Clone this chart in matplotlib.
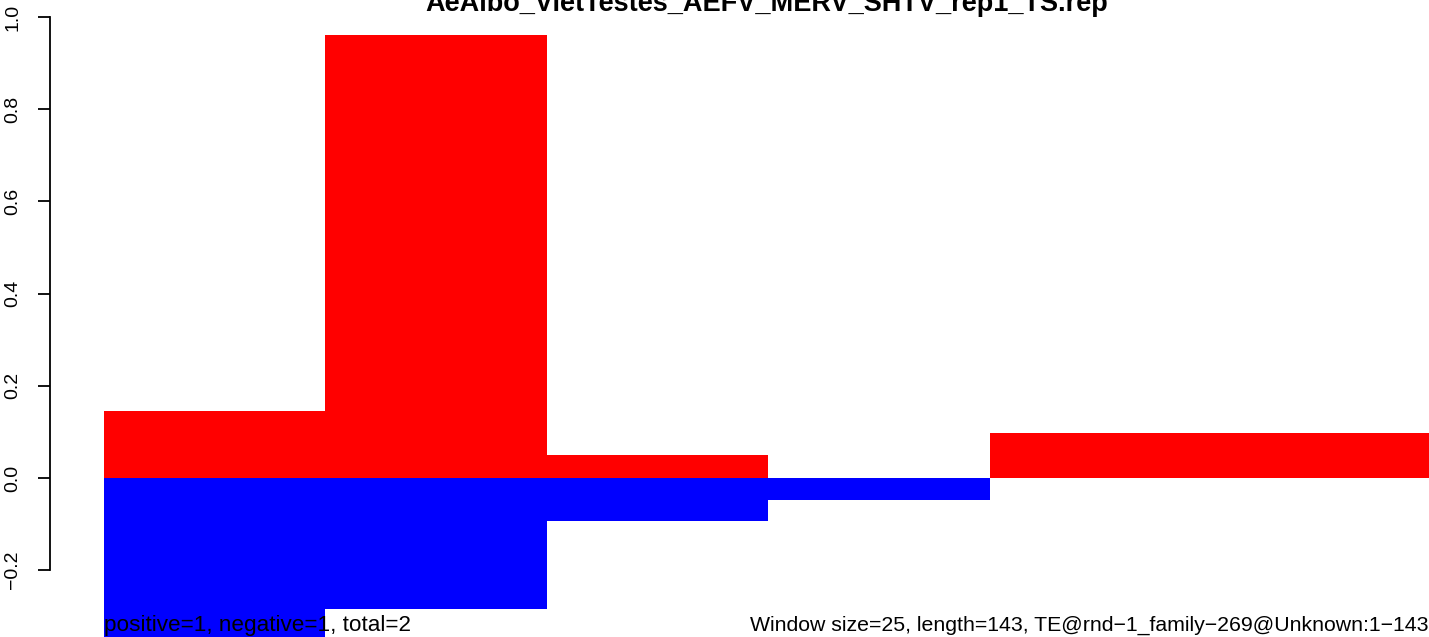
import matplotlib
matplotlib.use("Agg")
import matplotlib.pyplot as plt

plt.rcParams['font.family'] = ['Liberation Sans', 'DejaVu Sans']

# data
window_starts = [0, 25, 50, 75, 100, 125]
window_size = 25
positive = [0.145, 0.962, 0.049, 0.0, 0.097, 0.097]
negative = [-0.38, -0.285, -0.094, -0.048, 0.0, 0.0]
yticks = [-0.2, 0.0, 0.2, 0.4, 0.6, 0.8, 1.0]
title = "AeAlbo_VietTestes_AEFV_MERV_SHTV_rep1_TS.rep"
left_note = "positive=1, negative=1, total=2"
right_note = "Window size=25, length=143, TE@rnd\u22121_family\u2212269@Unknown:1\u2212143"

W, H = 1429, 637
PX = 0.72  # points per pixel at dpi 100
fig = plt.figure(figsize=(W / 100, H / 100), dpi=100)
ax = fig.add_axes([104 / W, 0, 1 - 104 / W, 1])

ax.bar(window_starts, positive, width=window_size, align='edge', color='#ff0000', linewidth=0)
ax.bar(window_starts, negative, width=window_size, align='edge', color='#0000ff', linewidth=0)

ax.set_xlim(0, 149.55)
ax.set_ylim(-0.345, 1.037)

for s in ['top', 'right', 'bottom']:
    ax.spines[s].set_visible(False)
ax.spines['left'].set_position(('outward', 54 * PX))
ax.spines['left'].set_bounds(-0.2, 1.0)
ax.spines['left'].set_linewidth(1.3)
ax.set_xticks([])
ax.set_yticks(yticks)
ax.set_yticklabels([f"{v:.1f}".replace('-', '\u2212') for v in yticks],
                   rotation=90, va='center', fontsize=14)
ax.tick_params(axis='y', length=12 * PX, width=1.3, pad=17 * PX)

ax.text(0.5, 1.0 - 11 / H, title, transform=ax.transAxes, ha='center', va='baseline',
        fontsize=19.5, fontweight='bold', clip_on=False)
ax.text(0, 6 / H, left_note, transform=ax.transAxes, ha='left', va='baseline', fontsize=16.2)
ax.text(1, 6 / H, right_note, transform=ax.transAxes, ha='right', va='baseline', fontsize=15.3)

fig.savefig("out.png", dpi=100)
